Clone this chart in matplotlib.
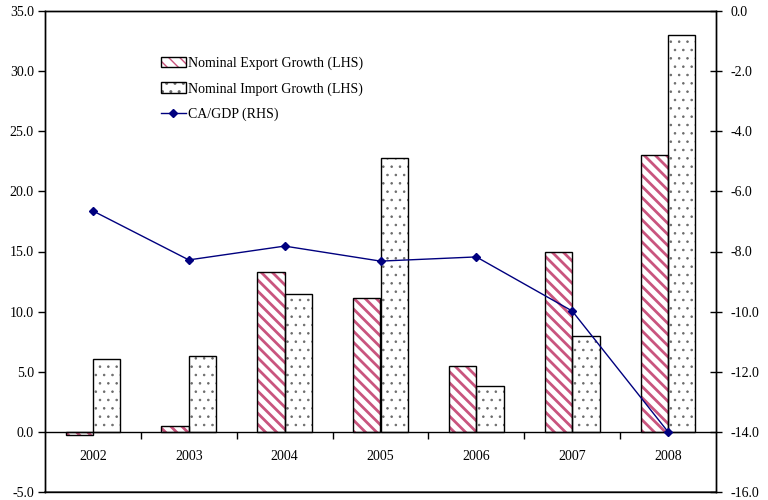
import matplotlib
matplotlib.use("Agg")
import matplotlib.pyplot as plt
from matplotlib.patches import Patch
from matplotlib.lines import Line2D
from matplotlib.legend_handler import HandlerTuple
import numpy as np

years = ["2002", "2003", "2004", "2005", "2006", "2007", "2008"]
export_growth = [-0.25, 0.45, 13.3, 11.1, 5.5, 15.0, 23.0]
import_growth = [6.05, 6.3, 11.5, 22.8, 3.85, 8.0, 33.0]
ca_gdp = [-6.65, -8.28, -7.82, -8.32, -8.18, -9.98, -14.0]

left_ticks = [-5, 0, 5, 10, 15, 20, 25, 30, 35]
right_ticks = [-16, -14, -12, -10, -8, -6, -4, -2, 0]

plt.rcParams["font.family"] = ["Liberation Serif", "DejaVu Serif"]
plt.rcParams["font.size"] = 10

EXPORT_HATCH = "#c9557e"
DOT_COLOR = "#6a6a6a"
LINE_COLOR = "#00007f"
STRIPES = "\\\\\\"
DOTS = ".."


def hatch_lw(artists, lw):
    for a in artists:
        if hasattr(a, "set_hatch_linewidth"):
            a.set_hatch_linewidth(lw)


fig = plt.figure(figsize=(7.68, 5.0), dpi=100)
ax = fig.add_axes([45 / 768, 8 / 500, 671 / 768, 481 / 500])

x = np.arange(len(years))
w = 0.285

# hatch layers first, then black outlines on top
with plt.rc_context({"hatch.linewidth": 2.0}):
    exp_fill = ax.bar(x - w / 2, export_growth, w, color="white", edgecolor=EXPORT_HATCH,
                      hatch=STRIPES, linewidth=0, zorder=2)
hatch_lw(exp_fill, 2.0)
ax.bar(x - w / 2, export_growth, w, fill=False, edgecolor="black",
       linewidth=1.0, zorder=3)
with plt.rc_context({"hatch.linewidth": 0.6}):
    imp_fill = ax.bar(x + w / 2, import_growth, w, color="white", edgecolor=DOT_COLOR,
                      hatch=DOTS, linewidth=0, zorder=2)
hatch_lw(imp_fill, 0.6)
ax.bar(x + w / 2, import_growth, w, fill=False, edgecolor="black",
       linewidth=1.0, zorder=3)

ax.set_xlim(-0.5, len(years) - 0.5)
ax.set_ylim(-5, 35)
ax.set_yticks(left_ticks)
ax.set_yticklabels([f"{v:.1f}" for v in left_ticks])

# category axis sits on the zero line
ax.spines["bottom"].set_position(("data", 0))
ax.spines["bottom"].set_zorder(4)
ax.axhline(-5, color="#555555", linewidth=1.2, zorder=1, clip_on=False)
ax.set_xticks(np.arange(0.5, len(years) - 1, 1.0))
ax.set_xticklabels([])
ax.set_xticks(x, minor=True)
ax.set_xticklabels(years, minor=True)
ax.tick_params(axis="x", which="major", direction="out", length=5, width=1)
ax.tick_params(axis="x", which="minor", length=0, pad=13)
ax.tick_params(axis="y", direction="out", length=5, width=1, pad=3)
for s in ax.spines.values():
    s.set_linewidth(1.0)

ax2 = ax.twinx()
ax2.set_ylim(-16, 0)
ax2.set_yticks(right_ticks)
ax2.set_yticklabels([f"{v:.1f}" for v in right_ticks])
ax2.tick_params(axis="y", direction="inout", length=9, width=1, pad=6)
for s in ax2.spines.values():
    s.set_linewidth(1.0)
ax2.plot(x, ca_gdp, color=LINE_COLOR, linewidth=1.0, marker="D",
         markersize=4, zorder=5, clip_on=False)

with plt.rc_context({"hatch.linewidth": 2.0}):
    leg_exp = Patch(facecolor="white", edgecolor=EXPORT_HATCH, hatch=STRIPES, linewidth=0)
hatch_lw([leg_exp], 2.0)
with plt.rc_context({"hatch.linewidth": 0.6}):
    leg_imp = Patch(facecolor="white", edgecolor=DOT_COLOR, hatch=DOTS, linewidth=0)
hatch_lw([leg_imp], 0.6)
h_exp = (leg_exp, Patch(fill=False, edgecolor="black", linewidth=1.0))
h_imp = (leg_imp, Patch(fill=False, edgecolor="black", linewidth=1.0))
h_ca = Line2D([], [], color=LINE_COLOR, linewidth=1.0, marker="D", markersize=4)

ax2.legend([h_exp, h_imp, h_ca],
           ["Nominal Export Growth (LHS)", "Nominal Import Growth (LHS)", "CA/GDP (RHS)"],
           handler_map={tuple: HandlerTuple(ndivide=1, pad=0)},
           loc="upper left", bbox_to_anchor=(155 / 768, 1 - 51 / 500),
           bbox_transform=fig.transFigure, frameon=False,
           handlelength=1.8, handleheight=0.8, handletextpad=0.2,
           labelspacing=0.88, borderaxespad=0)

fig.savefig("out.png", dpi=100)
